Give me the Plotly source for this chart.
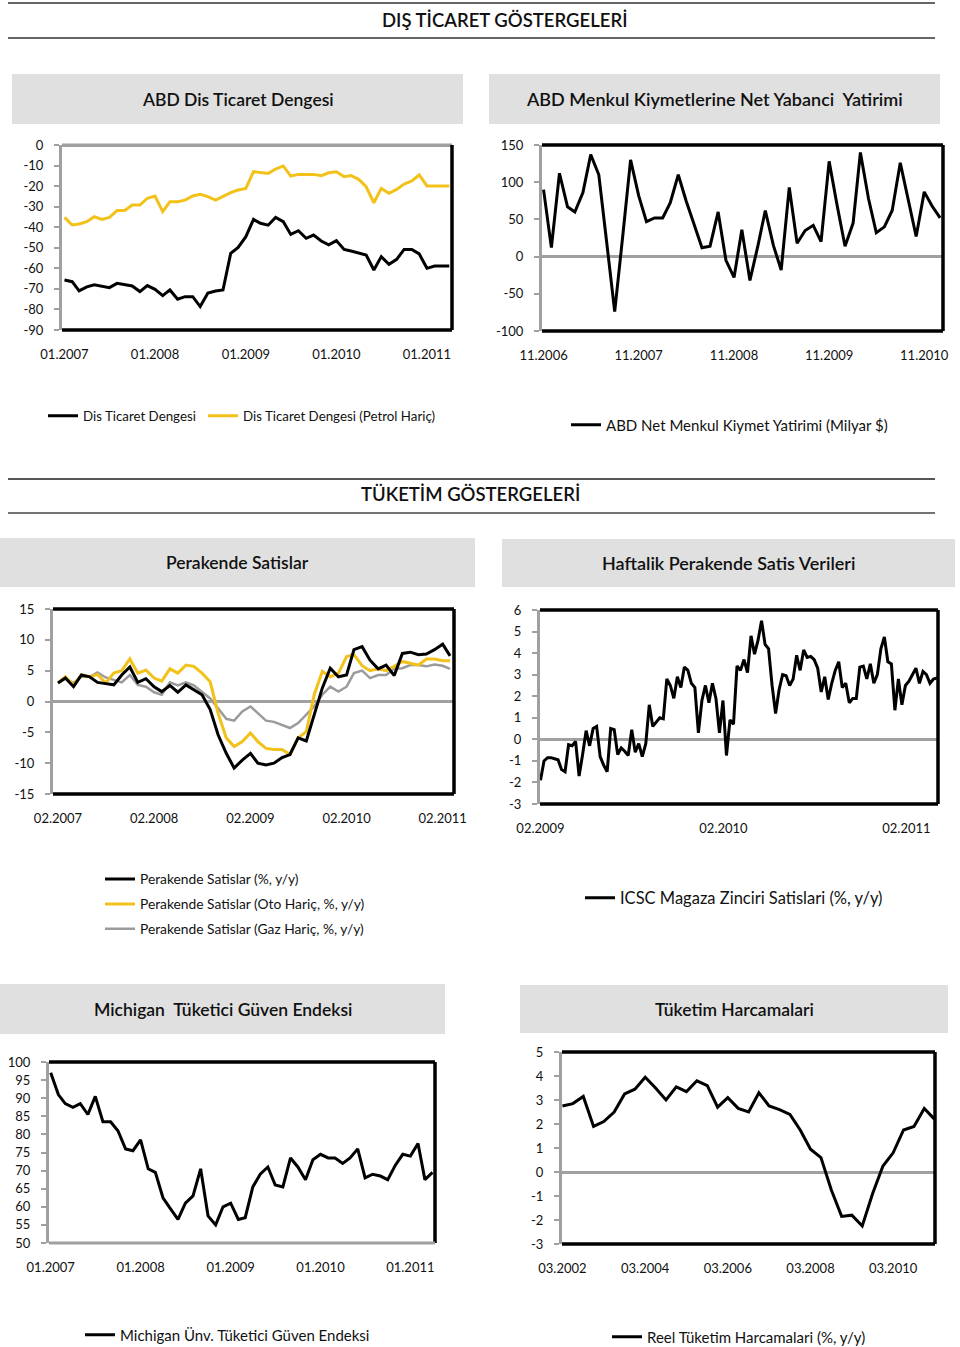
import pandas as pd
import plotly.graph_objects as go

W, H = 960, 1347
FONT = "Lato, 'Open Sans', sans-serif"

# ---------------- DATA ----------------
# ABD Dis Ticaret Dengesi (monthly, 01.2007 - 04.2011)
dis_ticaret = [-65.7, -66.5, -71, -69, -68, -68.6, -69.4, -67.3, -68, -68.6, -71.3, -68.4,
               -70.2, -73.3, -70.5, -75, -73.8, -73.8, -78.6, -72, -71, -70.5, -52.7, -49.8,
               -44.6, -36.2, -38.1, -39, -35.2, -37.3, -43.5, -41.7, -45.4, -43.8, -46.7, -48.6,
               -46.5, -50.8, -51.6, -52.4, -53.5, -60.8, -54.3, -58, -55.6, -50.8, -50.8, -53,
               -60, -58.9, -58.9, -58.9]
dis_ticaret_petrol_haric = [-35.2, -38.9, -38.4, -37.3, -34.9, -36.2, -35.2, -31.9, -31.9, -29.2, -29.2, -25.9,
                            -24.8, -32.4, -27.6, -27.6, -26.8, -24.8, -24, -25.1, -26.8, -25.1, -23.2, -21.9,
                            -21.1, -13, -13.5, -13.8, -11.7, -10.2, -15.1, -14.3, -14.3, -14.3, -14.9, -13.5,
                            -13, -15.4, -14.9, -16.7, -20.3, -28.1, -21.1, -23.5, -21.6, -19, -17.5, -14.6,
                            -19.9, -19.9, -19.9, -19.9]
ticks_c1 = ["01.2007", "01.2008", "01.2009", "01.2010", "01.2011"]
yticks_c1 = [0, -10, -20, -30, -40, -50, -60, -70, -80, -90]

# ABD Net Menkul Kiymet Yatirimi (monthly, 11.2006 - 01.2011)
menkul = [90, 12, 112, 67, 60, 86, 137, 110, 20, -74, 28, 130, 82, 47, 52, 52, 72, 110, 75, 42,
          12, 14, 60, -5, -28, 36, -32, 15, 62, 15, -18, 93, 18, 35, 42, 20, 128, 70, 14, 45,
          140, 78, 32, 40, 62, 126, 75, 27, 87, 68, 52]
ticks_c2 = ["11.2006", "11.2007", "11.2008", "11.2009", "11.2010"]
yticks_c2 = [150, 100, 50, 0, -50, -100]

# Perakende Satislar (monthly, 02.2007 - 03.2011)
perakende = [3.0, 3.8, 2.4, 4.3, 4.0, 3.1, 2.9, 2.7, 4.3, 5.6, 3.1, 3.7, 2.4, 1.6, 2.6, 1.5, 2.7, 1.9, 1.1, -1.3,
             -5.4, -8.4, -10.8, -9.5, -8.4, -10.0, -10.3, -10.0, -9.1, -8.6, -5.9, -6.4, -2.2, 2.2, 5.4, 4.0,
             4.3, 8.4, 8.9, 6.7, 5.3, 5.9, 4.2, 7.8, 8.0, 7.6, 7.7, 8.4, 9.3, 7.4]
perakende_oto_haric = [3.0, 4.0, 2.7, 4.3, 4.0, 4.4, 3.0, 4.6, 5.0, 6.9, 4.6, 5.1, 3.8, 3.3, 5.3, 4.6, 5.9, 5.7, 4.6, 3.2,
                       -1.9, -5.9, -7.3, -6.5, -5.1, -6.5, -7.6, -7.8, -7.8, -8.6, -5.9, -4.9, 1.1, 4.9, 4.0, 4.6,
                       7.3, 7.6, 5.8, 5.0, 5.3, 5.0, 5.7, 6.5, 6.2, 5.9, 6.9, 6.9, 6.6, 6.6]
perakende_gaz_haric = [3.0, 3.7, 3.0, 4.0, 4.0, 4.7, 3.9, 3.5, 3.1, 4.3, 2.7, 2.4, 1.5, 1.1, 3.1, 2.6, 3.1, 2.6, 1.6, 0.5,
                       -1.1, -2.8, -3.1, -1.6, -0.8, -1.9, -3.1, -3.3, -3.8, -4.3, -3.5, -2.1, -0.8, 1.1, 2.4, 1.6,
                       2.4, 4.6, 5.0, 3.8, 4.3, 4.3, 5.3, 5.4, 5.9, 5.9, 5.7, 6.0, 5.8, 5.3]
ticks_c3 = ["02.2007", "02.2008", "02.2009", "02.2010", "02.2011"]
yticks_c3 = [15, 10, 5, 0, -5, -10, -15]

# ICSC Magaza Zinciri Satislari (weekly, 02.2009 - 04.2011)
icsc = [-1.9, -1.0, -0.85, -0.85, -0.9, -0.95, -1.4, -1.5, -0.25, -0.3, -0.1, -1.7, -0.7, 0.4, -0.3, 0.5,
        0.6, -0.8, -1.2, -1.5, 0.5, 0.45, -0.7, -0.4, -0.55, -0.75, 0.45, -0.6, -0.2, -0.8, -0.2, 1.6,
        0.6, 0.8, 1.0, 0.95, 2.8, 2.5, 1.9, 2.9, 2.4, 3.35, 3.2, 2.6, 2.4, 0.3, 1.8, 2.5, 1.7, 2.6,
        1.9, 0.3, 1.8, -0.75, 0.9, 0.7, 3.4, 3.2, 3.7, 3.1, 4.8, 3.95, 4.6, 5.5, 4.4, 4.2, 2.5, 1.2,
        2.3, 3.0, 2.95, 2.5, 2.8, 3.9, 3.2, 4.15, 3.8, 3.85, 3.7, 3.3, 2.2, 2.9, 1.85, 2.6, 3.2, 3.6,
        2.4, 2.6, 1.7, 1.9, 1.9, 3.35, 3.4, 2.8, 3.5, 2.6, 3.0, 4.2, 4.75, 3.6, 3.5, 1.35, 2.8, 1.6,
        2.5, 2.7, 3.0, 3.3, 2.6, 3.15, 3.0, 2.6, 2.8, 2.85]
ticks_c4 = ["02.2009", "02.2010", "02.2011"]
yticks_c4 = [6, 5, 4, 3, 2, 1, 0, -1, -2, -3]

# Michigan Tuketici Guven Endeksi (monthly, 01.2007 - 04.2011)
michigan = [97, 91, 88.5, 87.5, 88.5, 85.5, 90.5, 83.5, 83.5, 81, 76, 75.5, 78.5, 70.5, 69.5, 62.5,
            59.5, 56.5, 61, 63, 70.5, 57.5, 55, 60, 61, 56.5, 57, 65.5, 69, 71, 66, 65.5,
            73.5, 71, 67.5, 73, 74.5, 73.5, 73.5, 72, 73.5, 76, 68, 69, 68.5, 67.5, 71.5, 74.5,
            74, 77.5, 67.5, 69.5]
ticks_c5 = ["01.2007", "01.2008", "01.2009", "01.2010", "01.2011"]
yticks_c5 = [100, 95, 90, 85, 80, 75, 70, 65, 60, 55, 50]

# Reel Tuketim Harcamalari (quarterly, 03.2002 - 03.2011)
tuketim = [2.75, 2.85, 3.15, 1.9, 2.1, 2.5, 3.25, 3.45, 3.95, 3.5, 3.0, 3.55, 3.35, 3.8, 3.6, 2.7,
           3.1, 2.65, 2.5, 3.3, 2.75, 2.6, 2.4, 1.75, 0.95, 0.6, -0.75, -1.85, -1.8, -2.25, -0.9, 0.25,
           0.8, 1.75, 1.9, 2.65, 2.2]
ticks_c6 = ["03.2002", "03.2004", "03.2006", "03.2008", "03.2010"]
yticks_c6 = [5, 4, 3, 2, 1, 0, -1, -2, -3]

# ---------------- HELPERS ----------------
def px(x):
    return x / W


def py(y):
    return 1 - y / H


def tv(labels):
    return [pd.to_datetime(l, format="%m.%Y") for l in labels]


BLACK = "#000000"
YELLOW = "#F2C21A"
GRAYS = "#9B9B9B"
AXGRAY = "#A0A0A0"
BOXGRAY = "#E0E0E0"
TXT = "#111111"

fig = go.Figure()


def setup_axes(n, xpx, ypx, xrange, yticks, tick_labels, sides):
    xa = "xaxis" if n == 1 else f"xaxis{n}"
    ya = "yaxis" if n == 1 else f"yaxis{n}"
    xr = "x" if n == 1 else f"x{n}"
    yr = "y" if n == 1 else f"y{n}"
    fig.update_layout(**{
        xa: dict(domain=[px(xpx[0]), px(xpx[1])], anchor=yr, type="date", range=xrange,
                 tickvals=tv(tick_labels), ticktext=tick_labels, showgrid=False, zeroline=False,
                 showline=False, ticks="", ticklabelstandoff=15,
                 tickfont=dict(family=FONT, size=13, color=TXT), fixedrange=True),
        ya: dict(domain=[py(ypx[1]), py(ypx[0])], anchor=xr, range=[min(yticks), max(yticks)],
                 tickvals=yticks, ticktext=[str(v) for v in yticks],
                 showgrid=False, zeroline=True, zerolinecolor=AXGRAY, zerolinewidth=3,
                 showline=True, linecolor=AXGRAY, linewidth=3, ticks="outside", ticklen=5,
                 tickwidth=2, tickcolor=AXGRAY, ticklabelstandoff=8,
                 tickfont=dict(family=FONT, size=13, color=TXT), fixedrange=True),
    })
    xd, yd = f"{xr} domain", f"{yr} domain"
    seg = {"top": (0, 1, 1, 1), "right": (1, 0, 1, 1), "bottom": (0, 0, 1, 0)}
    for side, col in sides.items():
        x0, y0, x1, y1 = seg[side]
        fig.add_shape(type="line", xref=xd, yref=yd, x0=x0, y0=y0, x1=x1, y1=y1,
                      line=dict(color=col, width=3.5 if col == BLACK else 3), layer="above")
    return xr, yr


def add_line(xr, yr, x, y, name, color, width, legend, rank):
    fig.add_trace(go.Scatter(x=x, y=y, mode="lines", name=name, xaxis=xr, yaxis=yr,
                             line=dict(color=color, width=width), legend=legend,
                             legendrank=rank, legendgroup=name, hoverinfo="skip"))


# Chart 1: ABD Dis Ticaret Dengesi
d1 = pd.date_range("2007-01-01", periods=len(dis_ticaret), freq="MS")
x1, y1 = setup_axes(1, (62, 452), (145, 330), ["2006-12-22", "2011-04-12"], yticks_c1, ticks_c1,
                    {"top": AXGRAY, "right": BLACK, "bottom": BLACK})
add_line(x1, y1, d1, dis_ticaret_petrol_haric, "Dis Ticaret Dengesi (Petrol Hariç)", YELLOW, 3, "legend7", 1)
add_line(x1, y1, d1, dis_ticaret, "Dis Ticaret Dengesi", BLACK, 3, "legend", 1)

# Chart 2: ABD Menkul
d2 = pd.date_range("2006-11-01", periods=len(menkul), freq="MS")
x2, y2 = setup_axes(2, (542, 943), (145, 331), ["2006-10-26", "2011-01-12"], yticks_c2, ticks_c2,
                    {"top": BLACK, "right": BLACK, "bottom": BLACK})
add_line(x2, y2, d2, menkul, "ABD Net Menkul Kiymet Yatirimi (Milyar $)", BLACK, 3, "legend2", 1)

# Chart 3: Perakende Satislar
d3 = pd.date_range("2007-02-01", periods=len(perakende), freq="MS")
x3, y3 = setup_axes(3, (53, 454), (609, 794), ["2007-01-13", "2011-03-16"], yticks_c3, ticks_c3,
                    {"top": BLACK, "right": BLACK, "bottom": BLACK})
add_line(x3, y3, d3, perakende_gaz_haric, "Perakende Satislar (Gaz Hariç, %, y/y)", GRAYS, 2.5, "legend3", 3)
add_line(x3, y3, d3, perakende_oto_haric, "Perakende Satislar (Oto Hariç, %, y/y)", YELLOW, 3, "legend3", 2)
add_line(x3, y3, d3, perakende, "Perakende Satislar (%, y/y)", BLACK, 3, "legend3", 1)

# Chart 4: ICSC weekly
d4 = pd.date_range("2009-02-01", periods=len(icsc), freq="7D")
x4, y4 = setup_axes(4, (540, 938), (610, 804), ["2009-01-31", "2011-04-05"], yticks_c4, ticks_c4,
                    {"top": BLACK, "right": BLACK, "bottom": BLACK})
add_line(x4, y4, d4, icsc, "ICSC Magaza Zinciri Satislari (%, y/y)", BLACK, 3, "legend4", 1)

# Chart 5: Michigan
d5 = pd.date_range("2007-01-01", periods=len(michigan), freq="MS")
x5, y5 = setup_axes(5, (49, 435), (1062, 1243), ["2006-12-25", "2011-04-11"], yticks_c5, ticks_c5,
                    {"top": BLACK, "right": BLACK, "bottom": AXGRAY})
add_line(x5, y5, d5, michigan, "Michigan Ünv. Tüketici Güven Endeksi", BLACK, 3, "legend5", 1)

# Chart 6: Tuketim Harcamalari
d6 = pd.date_range("2002-03-01", periods=len(tuketim), freq="QS-MAR")
x6, y6 = setup_axes(6, (562, 935), (1052, 1244), ["2002-02-25", "2011-03-06"], yticks_c6, ticks_c6,
                    {"top": BLACK, "right": BLACK, "bottom": BLACK})
add_line(x6, y6, d6, tuketim, "Reel Tüketim Harcamalari (%, y/y)", BLACK, 3, "legend6", 1)

# ---------------- Headers & boxes ----------------
def hline(y, x0, x1, color, width):
    fig.add_shape(type="line", xref="paper", yref="paper", x0=px(x0), x1=px(x1), y0=py(y), y1=py(y),
                  line=dict(color=color, width=width))


def text(x, y, s, size, weight="normal"):
    fig.add_annotation(xref="paper", yref="paper", x=px(x), y=py(y), text=s, showarrow=False,
                       xanchor="center", yanchor="middle",
                       font=dict(family=FONT, size=size, color=TXT, weight=weight))


def box(x0, y0, x1, y1, s, size=17.5):
    fig.add_shape(type="rect", xref="paper", yref="paper", x0=px(x0), x1=px(x1), y0=py(y1), y1=py(y0),
                  fillcolor=BOXGRAY, line=dict(width=0), layer="below")
    text((x0 + x1) / 2, (y0 + y1) / 2, s, size, 600)


hline(3, 8, 935, "#333333", 1.5)
hline(38, 8, 935, "#333333", 1.5)
text(505, 20, "DIŞ TİCARET GÖSTERGELERİ", 18.5, 600)
hline(479, 8, 935, "#555555", 2)
hline(513, 8, 935, "#444444", 1.5)
text(470, 494, "TÜKETİM GÖSTERGELERİ", 18.5, 600)

box(12, 74, 463, 124, "ABD Dis Ticaret Dengesi")
box(489, 74, 940, 124, "ABD Menkul Kiymetlerine Net Yabanci  Yatirimi", 18)
box(0, 538, 475, 587, "Perakende Satislar")
box(502, 539, 955, 587, "Haftalik Perakende Satis Verileri", 18)
box(0, 984, 445, 1034, "Michigan  Tüketici Güven Endeksi")
box(520, 985, 948, 1033, "Tüketim Harcamalari")

# ---------------- Legends ----------------
def leg(x, y, size, orientation="v", gap=0, **kw):
    return dict(x=px(x), y=py(y), xanchor="left", yanchor="middle", orientation=orientation,
                bgcolor="rgba(0,0,0,0)", borderwidth=0, tracegroupgap=gap,
                font=dict(family=FONT, size=size, color=TXT), **kw)


fig.update_layout(
    legend=leg(43, 416, 13.3),
    legend7=leg(203, 416, 13.3),
    legend2=leg(566, 425, 15),
    legend3=leg(100, 904, 13.8, "v", 4),
    legend4=leg(580, 898, 16.5),
    legend5=leg(80, 1335, 15),
    legend6=leg(607, 1337, 15),
)

fig.update_layout(width=W, height=H, autosize=False,
                  margin=dict(l=0, r=0, t=0, b=0, pad=0, autoexpand=False),
                  paper_bgcolor="white", plot_bgcolor="white", showlegend=True,
                  font=dict(family=FONT))

fig.write_html("out.html", config={"displayModeBar": False},
               post_script="document.body.style.margin='0px';document.body.style.padding='0px';")
